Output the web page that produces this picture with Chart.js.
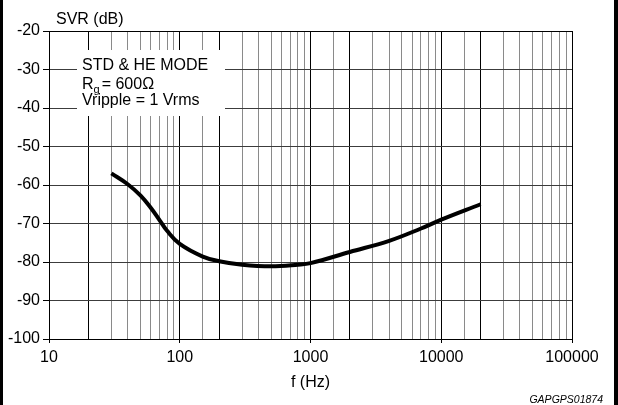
<!DOCTYPE html>
<html>
<head>
<meta charset="utf-8">
<script src="https://cdn.jsdelivr.net/npm/chart.js@4.4.0/dist/chart.umd.min.js"></script>
<style>
  html, body { margin: 0; padding: 0; background: #fff; }
  #wrap { width: 618px; height: 405px; position: relative; }
</style>
</head>
<body>
<div id="wrap"><canvas id="svr_graph"></canvas></div>
<script>
//Data (Hz, dB)
const freqs = [30, 40, 50, 60, 70, 80, 100, 150, 200, 300, 500, 800, 1000, 2000, 4000, 7000, 10000, 20000];
const svr = [-57, -59.8, -62.7, -65.9, -69.1, -71.9, -75.3, -78.6, -79.8, -80.7, -81.1, -80.7, -80.3, -77.4, -74.5, -71.3, -69, -65];

//Axis setup
const xLabels = [10, 100, 1000, 10000, 100000];
const yMin = -100, yMax = -20, yStep = 10;

//Texts
const yTitle = "SVR (dB)";
const xTitle = "f (Hz)";
const codeText = "GAPGPS01874";
const noteLines = ["STD & HE MODE", "R", "g", "= 600\u03A9", "Vripple = 1 Vrms"];

const FONT = "'Liberation Sans', Arial, sans-serif";

const points = freqs.map((f, i) => ({x: f, y: svr[i]}));

const data1 = {
  datasets: [{
    label: "SVR",
    data: points,
    borderColor: "#000",
    borderWidth: 4,
    pointRadius: 0,
    fill: false,
    tension: 0.4
  }]
};

//------------------------------------------

//decade or 2x decade line -> black
function isDark(v) {
  const m = v / Math.pow(10, Math.floor(Math.log10(v) + 1e-9));
  return Math.abs(m - 1) < 1e-6 || Math.abs(m - 2) < 1e-6;
}
function isDecade(v) {
  return xLabels.some(l => Math.abs(l - v) < 1e-6);
}

//texts, note box and side bars
const extras = {
  id: 'extras',
  afterDraw(chart) {
    const {ctx, chartArea: {left, top, right, bottom}} = chart;
    ctx.save();

    //note box
    ctx.fillStyle = '#fff';
    ctx.fillRect(left + 28, top + 19, 148, 66);
    ctx.fillStyle = '#000';
    ctx.textAlign = 'left';
    ctx.textBaseline = 'alphabetic';
    ctx.font = '16px ' + FONT;
    const tx = left + 33;
    ctx.fillText(noteLines[0], tx, top + 39);
    ctx.fillText(noteLines[1], tx, top + 58);
    let w = ctx.measureText(noteLines[1]).width;
    ctx.font = '11px ' + FONT;
    ctx.fillText(noteLines[2], tx + w, top + 62);
    w += ctx.measureText(noteLines[2]).width + 2;
    ctx.font = '16px ' + FONT;
    ctx.fillText(noteLines[3], tx + w, top + 58);
    ctx.fillText(noteLines[4], tx, top + 74);

    //axis titles
    ctx.textBaseline = 'middle';
    ctx.fillText(yTitle, left + 7, 20);
    ctx.textAlign = 'center';
    ctx.fillText(xTitle, (left + right) / 2, 383);

    //figure code
    ctx.font = 'italic 10.5px ' + FONT;
    ctx.textAlign = 'right';
    ctx.textBaseline = 'alphabetic';
    ctx.fillText(codeText, 603, 403);

    //side bars
    ctx.fillRect(0, 0, 3, chart.height);
    ctx.fillRect(chart.width - 4, 0, 4, chart.height);
    ctx.restore();
  }
};

//------------------------------------------
const config1 = {
  type: "line",
  data: data1,
  options: {
    responsive: true,
    maintainAspectRatio: false,
    animation: false,
    layout: {padding: {left: 0, top: 31, right: 46, bottom: 0}},
    plugins: {legend: {display: false}, tooltip: {enabled: false}},
    scales: {
      x: {
        type: "logarithmic",
        min: 10,
        max: 100000,
        afterFit(scale) { scale.height = 66; },
        border: {color: "#000", width: 1},
        grid: {
          color: c => isDark(c.tick.value) ? "#000" : "#8a8a8a",
          tickColor: c => isDecade(c.tick.value) ? "#000" : "rgba(0,0,0,0)",
          tickLength: 4,
          lineWidth: 1
        },
        ticks: {
          autoSkip: false,
          maxRotation: 0,
          padding: 5,
          color: "#000",
          font: {family: FONT, size: 16},
          callback: v => isDecade(v) ? String(v) : ""
        }
      },
      y: {
        min: yMin,
        max: yMax,
        afterFit(scale) { scale.width = 49; },
        border: {color: "#000", width: 1},
        grid: {
          color: c => (c.tick.value === yMin || c.tick.value === yMax) ? "#000" : "#3c3c3c",
          tickColor: "#000",
          tickLength: 6,
          lineWidth: 1
        },
        ticks: {
          stepSize: yStep,
          padding: 3,
          color: "#000",
          font: {family: FONT, size: 16}
        }
      }
    }
  },
  plugins: [extras]
};

//Render chart
const svr_graph = new Chart(document.getElementById("svr_graph"), config1);
</script>
</body>
</html>
